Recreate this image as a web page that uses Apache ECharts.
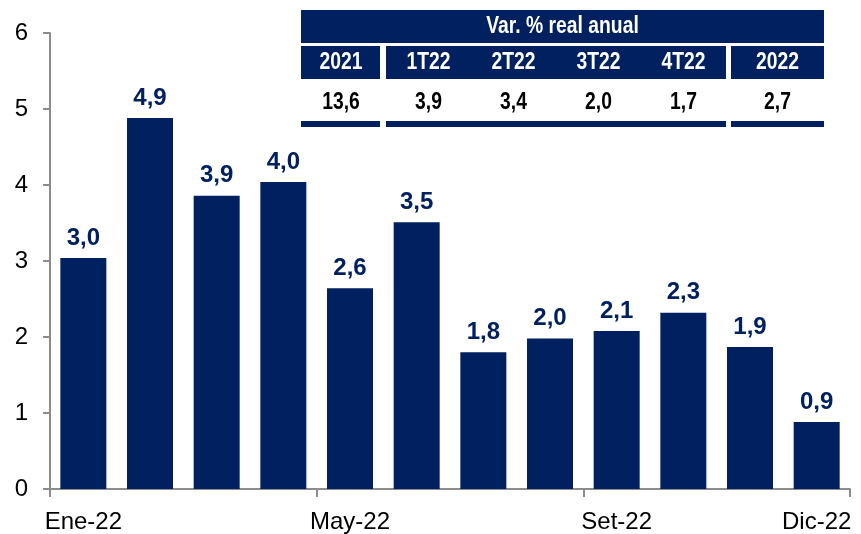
<!DOCTYPE html>
<html>
<head>
<meta charset="utf-8">
<script src="https://cdn.jsdelivr.net/npm/echarts@6/dist/echarts.min.js"></script>
<style>
  html, body { margin: 0; padding: 0; background: #fff; }
  #chart { width: 861px; height: 534px; }
</style>
</head>
<body>
<div id="chart"></div>
<script>
// meses
const months = ['Ene-22', 'Feb-22', 'Mar-22', 'Abr-22', 'May-22', 'Jun-22',
                'Jul-22', 'Ago-22', 'Set-22', 'Oct-22', 'Nov-22', 'Dic-22']
// var. % mensual
const values = [3.04, 4.88, 3.86, 4.04, 2.64, 3.51, 1.80, 1.98, 2.08, 2.32, 1.87, 0.88]
// tabla superior
const tableTitle = 'Var. % real anual'
const tableHeads = ['2021', '1T22', '2T22', '3T22', '4T22', '2022']
const tableVals = [13.6, 3.9, 3.4, 2.0, 1.7, 2.7]

const navy = '#002060'
const fmt = v => v.toFixed(1).replace('.', ',')

// columnas de la tabla: 2021 | 1T22..4T22 | 2022
const tblLeft = 301, tblRight = 824
const colCenters = [341, 428.5, 513.5, 598.5, 683.5, 777.5]
const blocks = [[301, 380], [386, 726], [731, 824]]
const narrow = 0.84
const tblFont = 'bold 23px "Liberation Sans", Arial, sans-serif'

let graphics = []
graphics.push({ type: 'rect', shape: { x: tblLeft, y: 10, width: tblRight - tblLeft, height: 33 }, style: { fill: navy } })
graphics.push({
    type: 'text', x: (tblLeft + tblRight) / 2, y: 27, scaleX: narrow,
    style: { text: tableTitle, fill: '#fff', font: tblFont, align: 'center', verticalAlign: 'middle' }
})
blocks.forEach((b) => {
    graphics.push({ type: 'rect', shape: { x: b[0], y: 46, width: b[1] - b[0], height: 33 }, style: { fill: navy } })
    graphics.push({ type: 'rect', shape: { x: b[0], y: 121, width: b[1] - b[0], height: 6 }, style: { fill: navy } })
})
tableHeads.forEach((h, i) => {
    graphics.push({
        type: 'text', x: colCenters[i], y: 63, scaleX: narrow,
        style: { text: h, fill: '#fff', font: tblFont, align: 'center', verticalAlign: 'middle' }
    })
    graphics.push({
        type: 'text', x: colCenters[i], y: 103, scaleX: narrow,
        style: { text: fmt(tableVals[i]), fill: '#000', font: tblFont, align: 'center', verticalAlign: 'middle' }
    })
})

let myChart = echarts.init(document.getElementById('chart'))
let option = {
    animation: false,
    grid: { left: 50, right: 11, top: 33, bottom: 45 },
    xAxis: {
        type: 'category',
        data: months,
        axisLine: { lineStyle: { color: '#8c8c8c', width: 2 } },
        axisTick: {
            show: true,
            length: 8,
            lineStyle: { color: '#8c8c8c', width: 2 },
            interval: 3
        },
        axisLabel: {
            interval: (i) => i === 0 || i === 4 || i === 8 || i === 11,
            color: '#000',
            fontSize: 24,
            fontFamily: '"Liberation Sans", Arial, sans-serif',
            margin: 21
        }
    },
    yAxis: {
        type: 'value',
        min: 0,
        max: 6,
        interval: 1,
        splitLine: { show: false },
        axisLine: { show: true, lineStyle: { color: '#8c8c8c', width: 2 } },
        axisTick: { show: true, length: 7, lineStyle: { color: '#8c8c8c', width: 2 } },
        axisLabel: {
            color: '#000',
            fontSize: 24,
            fontFamily: '"Liberation Sans", Arial, sans-serif',
            margin: 22
        }
    },
    series: [{
        type: 'bar',
        data: values,
        barWidth: '69%',
        itemStyle: { color: navy },
        label: {
            show: true,
            position: 'top',
            distance: 8,
            color: navy,
            fontWeight: 'bold',
            fontSize: 24,
            fontFamily: '"Liberation Sans", Arial, sans-serif',
            formatter: (p) => fmt(p.value)
        }
    }],
    graphic: graphics
}
myChart.setOption(option)
window.addEventListener('resize', function () {
    myChart.resize()
})
</script>
</body>
</html>
